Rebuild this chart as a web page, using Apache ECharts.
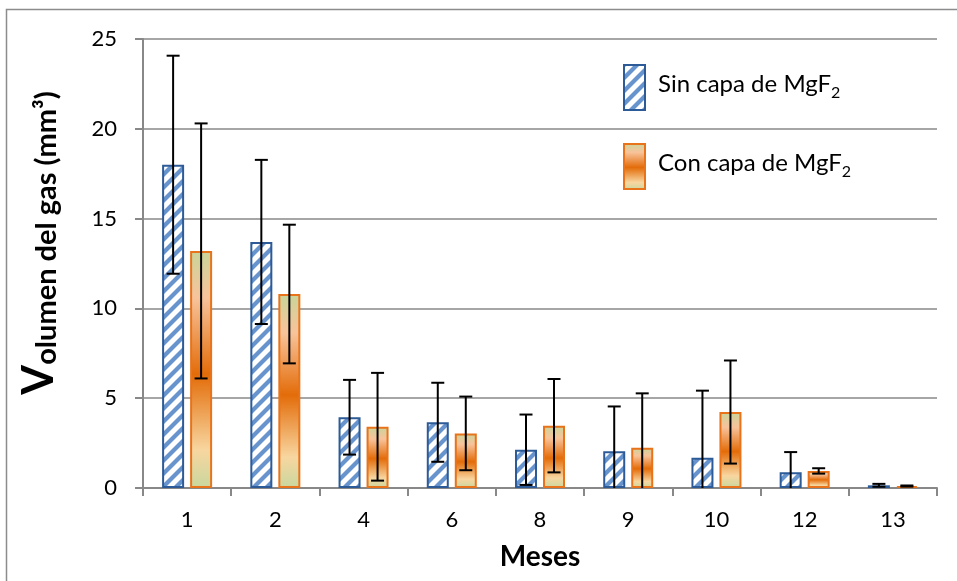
<!DOCTYPE html>
<html>
<head>
<meta charset="utf-8">
<script src="https://cdn.jsdelivr.net/npm/echarts@6/dist/echarts.min.js"></script>
<style>
  html, body { margin: 0; padding: 0; background: #fff; }
  #chart { width: 957px; height: 581px; }
</style>
</head>
<body>
<div id="chart"></div>
<script>
// Months on the x axis
const meses = ['1', '2', '4', '6', '8', '9', '10', '12', '13'];

// Gas volume (mm³) without MgF2 coating, with its error (±)
const sinCapa    = [18.0, 13.7, 3.94, 3.66, 2.13, 2.04, 1.69, 0.87, 0.15];
const sinCapaErr = [6.07, 4.57, 2.08, 2.20, 1.96, 2.50, 3.73, 1.13, 0.08];

// Gas volume (mm³) with MgF2 coating, with its error (±)
const conCapa    = [13.2, 10.8, 3.41, 3.04, 3.47, 2.24, 4.23, 0.95, 0.11];
const conCapaErr = [7.10, 3.86, 3.00, 2.05, 2.60, 3.03, 2.87, 0.15, 0.03];

// Value axis ticks
const yTicks = [0, 5, 10, 15, 20, 25];

const NAME_SIN = 'Sin capa de MgF2';
const NAME_CON = 'Con capa de MgF2';

const BAR_W = 22;
const BAR_GAP = 6;
const HALF_STEP = (BAR_W + BAR_GAP) / 2;

// Diagonal hatch used for the uncoated series
function hatchPattern() {
  const s = 13;
  const c = document.createElement('canvas');
  c.width = s; c.height = s;
  const ctx = c.getContext('2d');
  ctx.fillStyle = '#ffffff';
  ctx.fillRect(0, 0, s, s);
  ctx.strokeStyle = '#6894cd';
  ctx.lineWidth = 4.2;
  ctx.lineCap = 'square';
  for (const k of [-s, 0, s]) {
    ctx.beginPath();
    ctx.moveTo(k, s);
    ctx.lineTo(k + s, 0);
    ctx.stroke();
  }
  return c;
}

const orangeGradient = new echarts.graphic.LinearGradient(0, 0, 0, 1, [
  { offset: 0.00, color: '#c9d59b' },
  { offset: 0.20, color: '#f8c39a' },
  { offset: 0.52, color: '#e36c09' },
  { offset: 0.84, color: '#f8d6a0' },
  { offset: 1.00, color: '#c8d79e' }
]);

function errorSeries(values, errs, dir) {
  return {
    type: 'custom',
    clip: true,
    z: 5,
    silent: true,
    data: values.map((v, i) => [i, v, errs[i]]),
    encode: { x: 0, y: 1 },
    renderItem: function (params, api) {
      const i = api.value(0);
      const v = api.value(1);
      const e = api.value(2);
      const top = api.coord([i, v + e]);
      const bot = api.coord([i, v - e]);
      const x = top[0] + dir * HALF_STEP;
      const cap = 6.5;
      const st = { stroke: '#000', lineWidth: 2 };
      return {
        type: 'group',
        children: [
          { type: 'line', shape: { x1: x, y1: top[1], x2: x, y2: bot[1] }, style: st },
          { type: 'line', shape: { x1: x - cap, y1: top[1], x2: x + cap, y2: top[1] }, style: st },
          { type: 'line', shape: { x1: x - cap, y1: bot[1], x2: x + cap, y2: bot[1] }, style: st }
        ]
      };
    }
  };
}

const chart = echarts.init(document.getElementById('chart'), null, { renderer: 'canvas' });

const FONT = 'Lato, "Open Sans", sans-serif';

chart.setOption({
  backgroundColor: '#ffffff',
  animation: false,
  grid: { left: 143, right: 20, top: 39, bottom: 93, containLabel: false },
  legend: {
    orient: 'vertical',
    left: 623,
    top: 64,
    padding: 0,
    itemWidth: 21,
    itemHeight: 45,
    itemGap: 32,
    icon: 'rect',
    data: [NAME_SIN, NAME_CON],
    formatter: function (name) {
      return '{t|' + name.slice(0, -1) + '}{s|' + name.slice(-1) + '}';
    },
    textStyle: {
      padding: [0, 0, 6, 8],
      rich: {
        t: { fontFamily: FONT, fontSize: 24, color: '#000', lineHeight: 32, verticalAlign: 'middle' },
        s: { fontFamily: FONT, fontSize: 16, color: '#000', lineHeight: 2, verticalAlign: 'bottom' }
      }
    }
  },
  xAxis: {
    type: 'category',
    data: meses,
    name: 'Meses',
    nameLocation: 'middle',
    nameGap: 55,
    nameTextStyle: { fontFamily: FONT, fontSize: 28, fontWeight: 'bold', color: '#000' },
    axisLine: { lineStyle: { color: '#888888', width: 2 } },
    axisTick: { show: true, length: 8, lineStyle: { color: '#888888', width: 2 } },
    axisLabel: { margin: 21, fontFamily: FONT, fontSize: 22, color: '#000' }
  },
  yAxis: {
    type: 'value',
    min: yTicks[0],
    max: yTicks[yTicks.length - 1],
    interval: yTicks[1] - yTicks[0],
    axisLine: { show: true, lineStyle: { color: '#888888', width: 2 } },
    axisTick: { show: true, length: 8, lineStyle: { color: '#888888', width: 2 } },
    axisLabel: { margin: 26, fontFamily: FONT, fontSize: 22, color: '#000' },
    splitLine: { lineStyle: { color: '#a6a6a6', width: 2 } }
  },
  graphic: [
    {
      type: 'rect',
      silent: true,
      shape: { x: 6.5, y: 9.5, width: 1200, height: 1200 },
      style: { fill: 'none', stroke: '#8c8c8c', lineWidth: 1.5 }
    },
    {
      type: 'text',
      silent: true,
      x: 61,
      y: 243,
      rotation: Math.PI / 2,
      style: {
        text: '{v|V}{r|olumen del gas (mm³)}',
        align: 'center',
        verticalAlign: 'bottom',
        rich: {
          v: { fontFamily: FONT, fontSize: 43, fontWeight: 'bold', fill: '#000', lineHeight: 46, verticalAlign: 'bottom' },
          r: { fontFamily: FONT, fontSize: 29, fontWeight: 'bold', fill: '#000', lineHeight: 36, verticalAlign: 'bottom' }
        }
      }
    }
  ],
  series: [
    {
      name: NAME_SIN,
      type: 'bar',
      data: sinCapa,
      barWidth: BAR_W,
      barGap: (BAR_GAP / BAR_W * 100).toFixed(1) + '%',
      itemStyle: {
        color: { image: hatchPattern(), repeat: 'repeat' },
        borderColor: '#2d5b97',
        borderWidth: 2
      }
    },
    {
      name: NAME_CON,
      type: 'bar',
      data: conCapa,
      barWidth: BAR_W,
      itemStyle: {
        color: orangeGradient,
        borderColor: '#e8731a',
        borderWidth: 2
      }
    },
    errorSeries(sinCapa, sinCapaErr, -1),
    errorSeries(conCapa, conCapaErr, 1)
  ]
});
</script>
</body>
</html>
